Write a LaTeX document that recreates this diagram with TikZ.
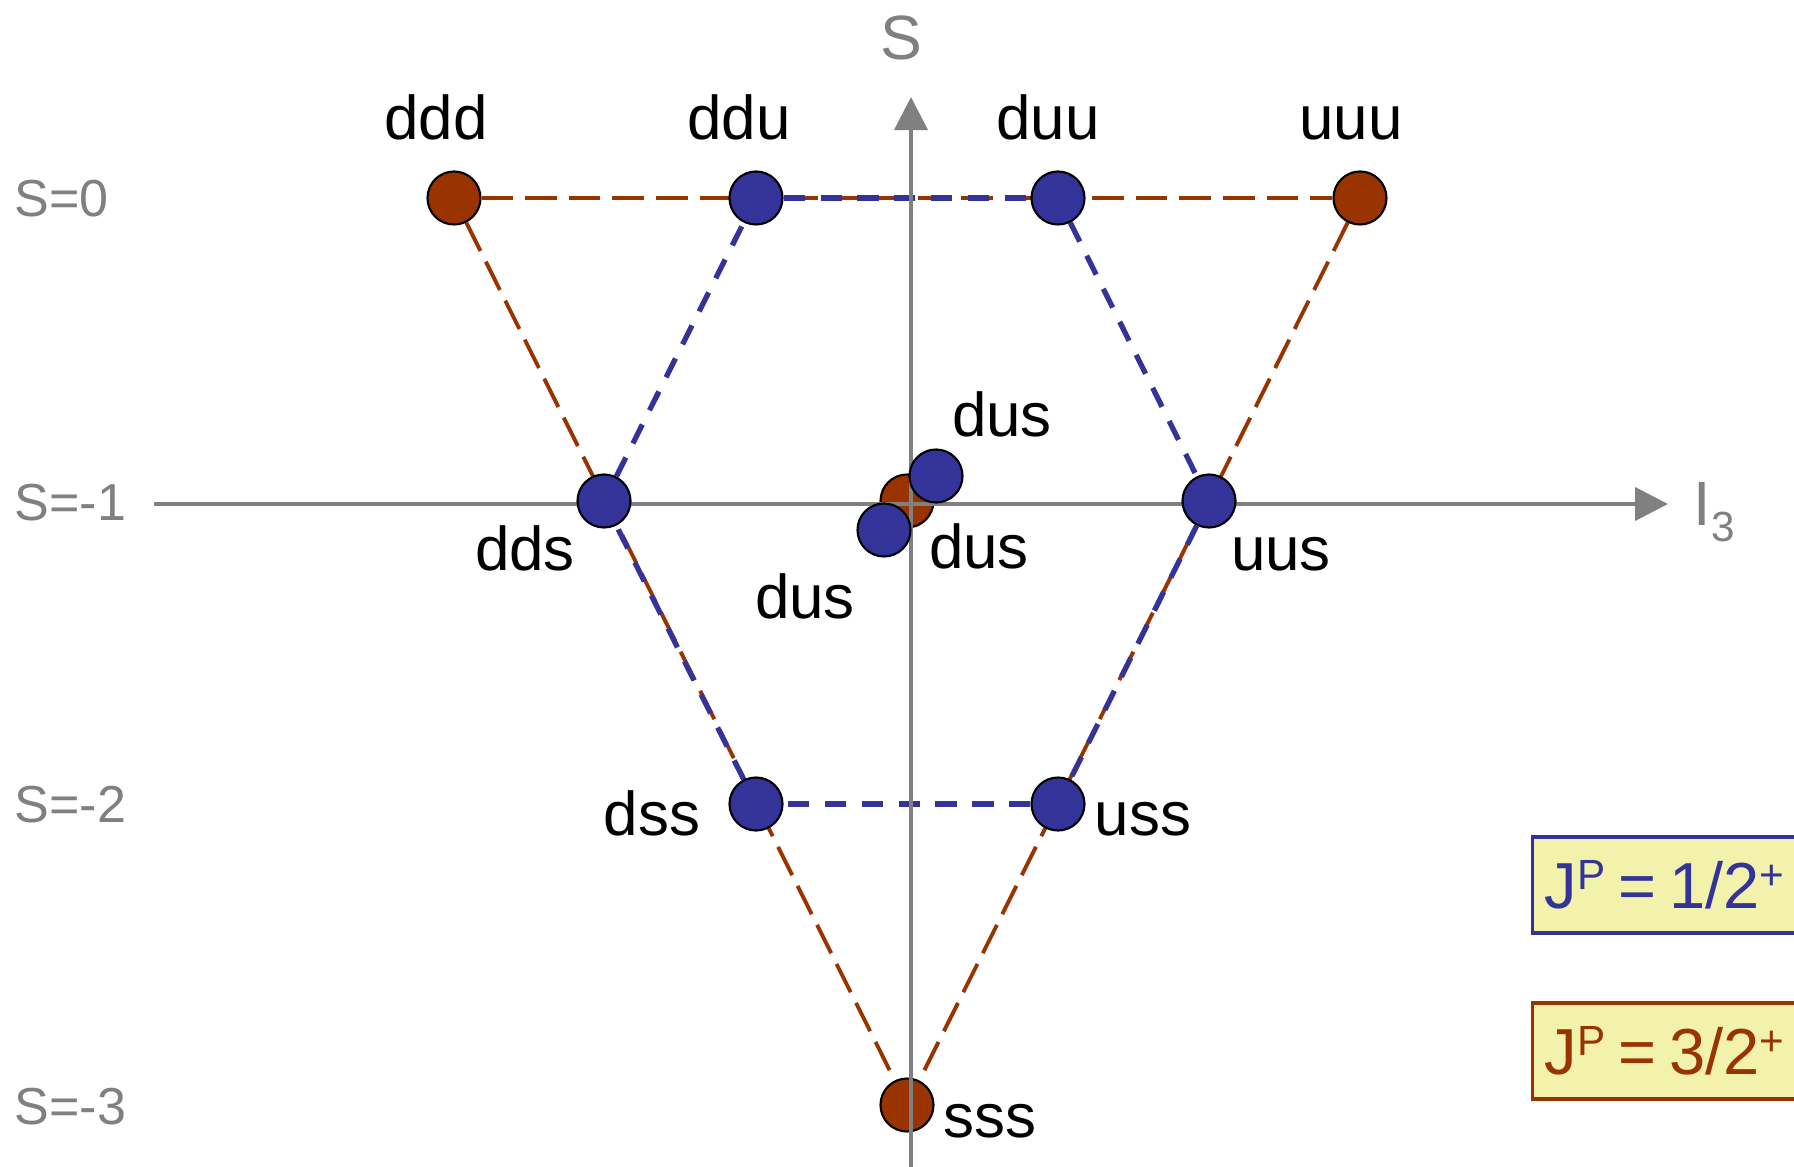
\documentclass[tikz,border=0pt]{standalone}
\usepackage{fontspec}
\setmainfont{Liberation Sans}
\usepackage{tikz}
\usepackage{xcolor}
\usetikzlibrary{positioning,arrows.meta,backgrounds}
\definecolor{bbrown}{RGB}{153,51,0}
\definecolor{bblue}{RGB}{51,51,153}
\definecolor{bgray}{RGB}{128,128,128}
\definecolor{byellow}{RGB}{242,242,172}
\newcommand{\legsup}[1]{\raisebox{5.4pt}{\fontsize{12pt}{12pt}\selectfont #1}}
\tikzset{
  octet/.style={circle, draw=black, line width=0.6pt, fill=bblue, minimum size=0.53cm, inner sep=0pt},
  decup/.style={circle, draw=black, line width=0.6pt, fill=bbrown, minimum size=0.53cm, inner sep=0pt},
  decline/.style={draw=bbrown, line width=1.1pt, dash pattern=on 9pt off 3.4pt},
  octline/.style={draw=bblue, line width=1.5pt, dash pattern=on 6pt off 4.5pt},
  axisline/.style={draw=bgray, line width=1.1pt, -{Triangle[length=0.33cm, width=0.33cm]}},
  quark/.style={anchor=base, inner sep=0pt, font=\fontsize{17.6pt}{20pt}\selectfont},
  strange/.style={anchor=base west, inner sep=0pt, text=bgray, font=\fontsize{14.8pt}{17pt}\selectfont},
  axlabel/.style={inner sep=0pt, text=bgray, font=\fontsize{17.8pt}{20pt}\selectfont},
  legend/.style={draw, fill=byellow, line width=0.9pt, anchor=west, minimum height=0.96cm, inner xsep=0.12cm, text width=2.56cm, align=left, font=\fontsize{18.5pt}{20pt}\selectfont}
}

\begin{document}
\begin{tikzpicture}[x=0.01cm, y=-0.01cm]
  \useasboundingbox (0,0) rectangle (1794,1167);
  % decuplet (brown) states
  \node[decup] (ddd) at (454,198) {};
  \node[decup] (uuu) at (1360,198) {};
  \node[decup] (dusd) at (907,501) {};
  \node[decup] (sss) at (907,1105) {};
  % axes
  \coordinate (ileft) at (154,504);
  \coordinate (iright) at (1668,504);
  \coordinate (sbot) at (911,1167);
  \coordinate (stop) at (911,97);
  \draw[axisline] (ileft) -- (iright);
  \draw[axisline] (sbot) -- (stop);
  % octet (blue) states
  \node[octet] (ddu) at (756,198) {};
  \node[octet] (duu) at (1058,198) {};
  \node[octet] (dds) at (604,501) {};
  \node[octet] (uus) at (1209,501) {};
  \node[octet] (dusa) at (936,476) {};
  \node[octet] (dusb) at (884,530) {};
  \node[octet] (dss) at (756,804) {};
  \node[octet] (uss) at (1058,804) {};
  % dashed multiplet lines
  \begin{scope}[on background layer]
    \draw[decline] (ddd) -- (uuu);
    \draw[decline] (ddd) -- (sss);
    \draw[decline] (uuu) -- (sss);
    \draw[octline] (ddu) -- (duu);
    \draw[octline] (duu) -- (uus);
    \draw[octline] (uus) -- (uss);
    \draw[octline] (uss) -- (dss);
    \draw[octline] (dss) -- (dds);
    \draw[octline] (dds) -- (ddu);
  \end{scope}
  % quark content
  \node[quark] (ddd-l) at (436,140) {ddd};
  \node[quark] (ddu-l) at (739,140) {ddu};
  \node[quark] (duu-l) at (1048,140) {duu};
  \node[quark] (uuu-l) at (1351,140) {uuu};
  \node[quark] (dusa-l) at (1002,437) {dus};
  \node[quark] (dds-l) at (525,570) {dds};
  \node[quark] (dusd-l) at (979,568) {dus};
  \node[quark] (uus-l) at (1281,570) {uus};
  \node[quark] (dusb-l) at (805,618) {dus};
  \node[quark] (dss-l) at (652,835) {dss};
  \node[quark] (uss-l) at (1143,835) {uss};
  \node[quark] (sss-l) at (990,1137) {sss};
  % strangeness rows
  \node[strange] (s0) at (14,217) {S=0};
  \node[strange] (s1) at (14,521) {S=-1};
  \node[strange] (s2) at (14,822) {S=-2};
  \node[strange] (s3) at (14,1124) {S=-3};
  \node[axlabel, anchor=base] (slab) at (901,60) {S};
  \node[axlabel, anchor=base west] (ilab) at (1693,525) {I\raisebox{-4.8pt}{\fontsize{12pt}{12pt}\selectfont 3}};
  % spin-parity legend
  \node[legend, draw=bblue, text=bblue] (half) at (1531,885) {J\legsup{P}\hspace{0.2em}=\hspace{0.2em}1/2\legsup{+}};
  \node[legend, draw=bbrown, text=bbrown] (threehalf) at (1531,1051) {J\legsup{P}\hspace{0.2em}=\hspace{0.2em}3/2\legsup{+}};
\end{tikzpicture}
\end{document}
